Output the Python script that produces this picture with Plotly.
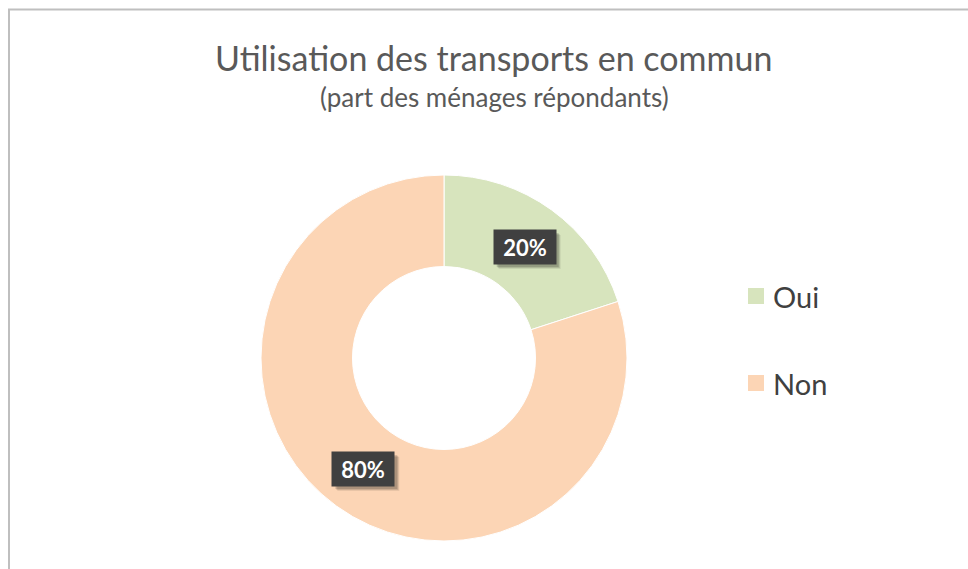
import math
import plotly.graph_objects as go

categories = ["Oui", "Non"]
values = [20, 80]
colors = ["#D7E4BD", "#FCD5B5"]
title_text = "Utilisation des transports en commun"
subtitle_text = "(part des ménages répondants)"

W, H = 968, 569
cx, cy, R, hole = 444, 358, 183, 0.5

fig = go.Figure()
fig.add_trace(go.Pie(
    labels=categories, values=values, hole=hole, sort=False,
    direction="clockwise", rotation=0,
    marker=dict(colors=colors, line=dict(color="white", width=1)),
    textinfo="none", hoverinfo="label+percent", showlegend=False,
    domain=dict(x=[(cx - R) / W, (cx + R) / W], y=[(H - cy - R) / H, (H - cy + R) / H]),
))

# data labels at slice mid-angles (derived from values)
total = sum(values)
cum = 0
rmid = R * (1 + hole) / 2
bw, bh = 62, 34
for v in values:
    ang = 2 * math.pi * (cum + v / 2) / total
    cum += v
    px = cx + rmid * math.sin(ang)
    py = cy - rmid * math.cos(ang)
    pct = f"{round(100 * v / total)}%"
    # soft shadow
    for off, alpha in [(5, 0.08), (4, 0.12), (3, 0.15)]:
        fig.add_shape(type="rect", xref="paper", yref="paper", layer="above",
                      x0=(px - bw / 2 + off) / W, x1=(px + bw / 2 + off) / W,
                      y0=1 - (py + bh / 2 + off) / H, y1=1 - (py - bh / 2 + off) / H,
                      fillcolor=f"rgba(0,0,0,{alpha})", line=dict(width=0))
    fig.add_annotation(x=px / W, y=1 - py / H, xref="paper", yref="paper",
                       xanchor="center", yanchor="middle",
                       text=f"<b>{pct}</b>", showarrow=False,
                       width=bw - 10, height=bh - 10, borderpad=5,
                       font=dict(family="Lato", size=22, color="white"),
                       bgcolor="#404040")

# legend
leg_y = [296, 383]
for name, col, ly in zip(categories, colors, leg_y):
    fig.add_shape(type="rect", xref="paper", yref="paper",
                  x0=748 / W, x1=764 / W, y0=1 - (ly + 8) / H, y1=1 - (ly - 8) / H,
                  fillcolor=col, line=dict(width=0))
    fig.add_annotation(x=771 / W, y=1 - ly / H, xref="paper", yref="paper",
                       text=name, showarrow=False, xanchor="left", yanchor="middle",
                       font=dict(family="Lato", size=29, color="#404040"))

# titles
fig.add_annotation(x=493 / W, y=1 - 57 / H, xref="paper", yref="paper", text=title_text,
                   xanchor="center", yanchor="middle",
                   showarrow=False, font=dict(family="Lato", size=34, color="#595959"))
fig.add_annotation(x=494 / W, y=1 - 97 / H, xref="paper", yref="paper", text=subtitle_text,
                   xanchor="center", yanchor="middle",
                   showarrow=False, font=dict(family="Lato", size=26, color="#595959"))

# frame
fig.add_shape(type="rect", xref="paper", yref="paper",
              x0=9 / W, x1=1.02, y0=-0.02, y1=1 - 9.5 / H,
              line=dict(color="#BFBFBF", width=2), fillcolor="rgba(0,0,0,0)")

fig.update_layout(width=W, height=H, margin=dict(l=0, r=0, t=0, b=0),
                  paper_bgcolor="white", plot_bgcolor="white")
fig.write_html("out.html", config={"displayModeBar": False},
               post_script="document.body.style.margin='0';")
